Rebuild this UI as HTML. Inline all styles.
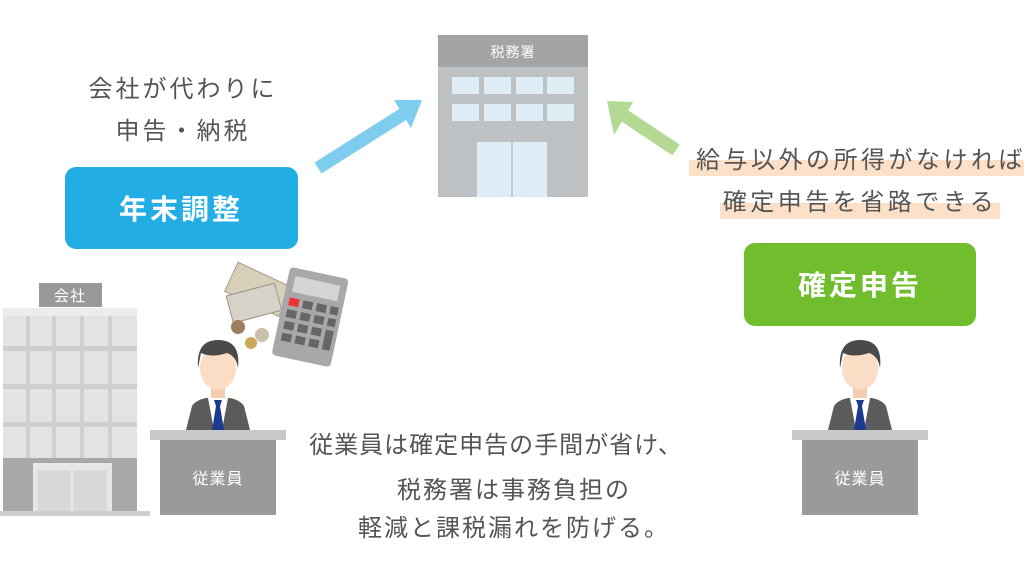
<!DOCTYPE html>
<html><head><meta charset="utf-8"><style>
body{margin:0;width:1024px;height:575px;background:#fff;overflow:hidden}
svg{display:block}
text{font-family:"Liberation Sans","Noto Sans CJK JP",sans-serif}
</style></head><body>
<svg width="1024" height="575" viewBox="0 0 1024 575">
<defs>
<g id="person">
  <path d="M36 0 L42 -24 Q46 -30 56 -32 L80 -32 Q90 -30 94 -24 L100 0 Z" fill="#5b5b5b"/>
  <path d="M58 -32 L78 -32 L72 0 L64 0 Z" fill="#fff"/>
  <rect x="61" y="-48" width="14" height="16" fill="#f3cdb2"/>
  <ellipse cx="68" cy="-62" rx="18" ry="22" fill="#fbdcc5"/>
  <path d="M48 -62 Q46 -90 68 -90 Q91 -90 88 -62 Q86 -74 77 -77 Q62 -72 51 -77 Z" fill="#4a4a4a"/>
  <path d="M64 -30 L72 -30 L70 -24 L74 0 L62 0 L66 -24 Z" fill="#1b3a92"/>
  <rect x="0" y="0" width="136" height="10" fill="#c9c9c9"/>
  <rect x="10" y="10" width="116" height="75" fill="#9a9a9a"/>
  <text x="68" y="54" font-size="16" fill="#fff" text-anchor="middle" letter-spacing="1">従業員</text>
</g>
</defs>

<!-- tax office -->
<rect x="438" y="35" width="150" height="162" fill="#bdc1c4"/>
<rect x="438" y="35" width="150" height="32" fill="#a2a4a6"/>
<text x="513" y="57" font-size="14" fill="#fff" text-anchor="middle" letter-spacing="1">税務署</text>
<g fill="#deedf6">
<rect x="452" y="77" width="27" height="17"/><rect x="484" y="77" width="27" height="17"/><rect x="516" y="77" width="27" height="17"/><rect x="547" y="77" width="27" height="17"/>
<rect x="452" y="104" width="27" height="17"/><rect x="484" y="104" width="27" height="17"/><rect x="516" y="104" width="27" height="17"/><rect x="547" y="104" width="27" height="17"/>
<rect x="477" y="142" width="70" height="55"/>
</g>
<line x1="512" y1="142" x2="512" y2="197" stroke="#bdc1c4" stroke-width="1.5"/>

<!-- arrows -->
<path d="M318 168 L405 113" stroke="#7fcdee" stroke-width="13"/>
<polygon points="422,100 394,100 411,128" fill="#7fcdee"/>
<path d="M676 150 L622 114" stroke="#b3d993" stroke-width="13"/>
<polygon points="607,101 633,102 614,135" fill="#b3d993"/>

<!-- left texts -->
<text x="183" y="97" font-size="24" fill="#555" text-anchor="middle" letter-spacing="3">会社が代わりに</text>
<text x="183" y="139" font-size="24" fill="#555" text-anchor="middle" letter-spacing="3">申告・納税</text>
<rect x="65" y="167" width="233" height="82" rx="11" fill="#22aee4"/>
<text x="181" y="219" font-size="28" font-weight="bold" fill="#fff" text-anchor="middle" letter-spacing="3">年末調整</text>

<!-- right texts -->
<rect x="689" y="160" width="335" height="16" fill="#fde0c8"/>
<rect x="720" y="203" width="280" height="16" fill="#fde0c8"/>
<text x="1026" y="168" font-size="24" fill="#555" text-anchor="end" letter-spacing="3.5">給与以外の所得がなければ</text>
<text x="860" y="210" font-size="24" fill="#555" text-anchor="middle" letter-spacing="3.5">確定申告を省路できる</text>
<rect x="744" y="243" width="232" height="83" rx="11" fill="#70be2e"/>
<text x="860" y="295" font-size="28" font-weight="bold" fill="#fff" text-anchor="middle" letter-spacing="3">確定申告</text>

<!-- company building -->
<rect x="39" y="283" width="63" height="24" fill="#999"/>
<text x="70" y="301" font-size="15" fill="#fff" text-anchor="middle" letter-spacing="1">会社</text>
<rect x="3" y="308" width="134" height="150" fill="#e3e3e3"/>
<rect x="3" y="308" width="134" height="8" fill="#ececec"/>
<g fill="#cfcfcf">
<rect x="3" y="346" width="134" height="5"/><rect x="3" y="384" width="134" height="5"/><rect x="3" y="422" width="134" height="5"/>
<rect x="26" y="316" width="4" height="142"/><rect x="52" y="316" width="4" height="142"/><rect x="80" y="316" width="4" height="142"/><rect x="108" y="316" width="4" height="142"/>
</g>
<rect x="3" y="458" width="134" height="57" fill="#a9a9a9"/>
<rect x="33" y="463" width="79" height="52" fill="#e6e6e6"/>
<rect x="38" y="470" width="69" height="45" fill="#d8d8d8"/>
<line x1="72" y1="470" x2="72" y2="515" stroke="#eee" stroke-width="1.5"/>
<rect x="0" y="511" width="150" height="5" fill="#cfcfcf"/>

<!-- money & calculator -->
<g transform="rotate(25 255 290)"><rect x="228" y="272" width="60" height="32" fill="#d8cfbb" stroke="#a89c86"/><circle cx="270" cy="288" r="9" fill="#ede6d6"/></g>
<g transform="rotate(-15 250 300)"><rect x="228" y="290" width="50" height="28" fill="#d6d2c8" stroke="#9a9486"/></g>
<circle cx="238" cy="327" r="7" fill="#9c7e5e"/>
<circle cx="262" cy="335" r="7" fill="#c9c0ae"/>
<circle cx="251" cy="343" r="6" fill="#c9a85a"/>
<g transform="rotate(12 310 318)">
<rect x="280" y="272" width="60" height="90" rx="4" fill="#a8a8a8"/>
<rect x="287" y="280" width="46" height="16" fill="#d4d4d4"/>
<g fill="#666">
<rect x="286" y="302" width="10" height="8" fill="#e33"/><rect x="300" y="302" width="10" height="8"/><rect x="314" y="302" width="10" height="8"/><rect x="328" y="302" width="8" height="8"/>
<rect x="286" y="314" width="10" height="8"/><rect x="300" y="314" width="10" height="8"/><rect x="314" y="314" width="10" height="8"/><rect x="328" y="314" width="8" height="8"/>
<rect x="286" y="326" width="10" height="8"/><rect x="300" y="326" width="10" height="8"/><rect x="314" y="326" width="10" height="8"/><rect x="328" y="326" width="8" height="20"/>
<rect x="286" y="338" width="10" height="8"/><rect x="300" y="338" width="10" height="8"/><rect x="314" y="338" width="10" height="8"/>
</g></g>

<!-- persons -->
<use href="#person" x="150" y="430"/>
<use href="#person" x="792" y="430"/>

<!-- bottom text -->
<text x="496" y="453" font-size="24" fill="#555" text-anchor="middle" letter-spacing="1">従業員は確定申告の手間が省け、</text>
<text x="514" y="498" font-size="24" fill="#555" text-anchor="middle" letter-spacing="2">税務署は事務負担の</text>
<text x="514" y="536" font-size="24" fill="#555" text-anchor="middle" letter-spacing="2">軽減と課税漏れを防げる。</text>
</svg>
</body></html>
